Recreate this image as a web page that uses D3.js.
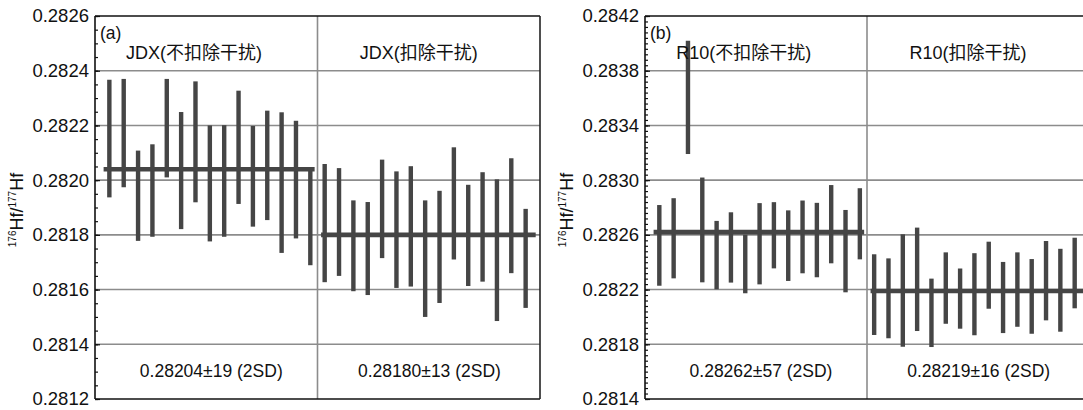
<!DOCTYPE html>
<html>
<head>
<meta charset="utf-8">
<script src="https://cdn.jsdelivr.net/npm/d3@7"></script>
<style>
  html, body { margin: 0; padding: 0; background: #fff; }
  svg { display: block; }
  text { font-family: "Liberation Sans", Arial, "Noto Sans CJK SC", sans-serif; fill: #111; }
</style>
</head>
<body>
<svg id="chart" width="1083" height="410"></svg>
<script>
// 176Hf/177Hf of each analysis (value and 2SD), 15 spots per session
const jdxRawVal  = [0.282152, 0.282172, 0.281943, 0.281962, 0.282190, 0.282035, 0.282140, 0.281988, 0.281997, 0.282120, 0.282014, 0.282054, 0.281991, 0.282002, 0.281867];
const jdxRawErr  = [0.000215, 0.000198, 0.000165, 0.000169, 0.000180, 0.000214, 0.000221, 0.000212, 0.000204, 0.000207, 0.000184, 0.000200, 0.000257, 0.000215, 0.000178];
const jdxCorrVal = [0.281843, 0.281847, 0.281760, 0.281750, 0.281895, 0.281819, 0.281831, 0.281713, 0.281756, 0.281915, 0.281798, 0.281829, 0.281744, 0.281870, 0.281714];
const jdxCorrErr = [0.000216, 0.000197, 0.000166, 0.000170, 0.000180, 0.000213, 0.000220, 0.000213, 0.000205, 0.000205, 0.000185, 0.000200, 0.000259, 0.000210, 0.000181];

const r10RawVal  = [0.282523, 0.282575, 0.283605, 0.282636, 0.282452, 0.282508, 0.282387, 0.282535, 0.282597, 0.282521, 0.282585, 0.282562, 0.282678, 0.282481, 0.282681];
const r10RawErr  = [0.000295, 0.000293, 0.000414, 0.000383, 0.000250, 0.000257, 0.000214, 0.000297, 0.000242, 0.000258, 0.000266, 0.000272, 0.000286, 0.000301, 0.000260];
const r10CorrVal = [0.282163, 0.282136, 0.282193, 0.282275, 0.282030, 0.282211, 0.282134, 0.282166, 0.282305, 0.282142, 0.282200, 0.282150, 0.282265, 0.282195, 0.282321];
const r10CorrErr = [0.000295, 0.000292, 0.000411, 0.000378, 0.000250, 0.000261, 0.000220, 0.000300, 0.000245, 0.000260, 0.000272, 0.000273, 0.000290, 0.000303, 0.000258];

// session means (weighted), 2SD in last digits
const jdxMeans = [0.28204, 0.28180];
const r10Means = [0.28262, 0.28219];
const jdxTitles = ["JDX(不扣除干扰)", "JDX(扣除干扰)"];
const r10Titles = ["R10(不扣除干扰)", "R10(扣除干扰)"];
const jdxStats = ["0.28204±19 (2SD)", "0.28180±13 (2SD)"];
const r10Stats = ["0.28262±57 (2SD)", "0.28219±16 (2SD)"];

const jdxMajorTicks = [0.2812, 0.2814, 0.2816, 0.2818, 0.2820, 0.2822, 0.2824, 0.2826];
const r10MajorTicks = [0.2814, 0.2818, 0.2822, 0.2826, 0.2830, 0.2834, 0.2838, 0.2842];

const svg = d3.select("#chart");
const BAR = "#454545";
const GRID = "#8c8c8c";

function panel(cfg) {
  const top = 16, bottom = 399;
  const x = d3.scaleLinear().domain([0, 31]).range([cfg.left, cfg.right]);
  const y = d3.scaleLinear().domain(cfg.domain).range([bottom, top]);
  const g = svg.append("g");

  // horizontal grid at inner major ticks
  g.append("g").selectAll("line")
    .data(cfg.major.slice(1, -1))
    .join("line")
    .attr("x1", cfg.left).attr("x2", cfg.right)
    .attr("y1", d => y(d)).attr("y2", d => y(d))
    .attr("stroke", GRID).attr("stroke-width", 1.6);

  // session divider
  g.append("line")
    .attr("x1", x(15.5)).attr("x2", x(15.5))
    .attr("y1", top).attr("y2", bottom)
    .attr("stroke", GRID).attr("stroke-width", 1.6);

  // minor ticks (inward)
  const minor = d3.range(cfg.domain[0], cfg.domain[1] + cfg.minorStep / 2, cfg.minorStep);
  g.append("g")
    .attr("transform", `translate(${cfg.left},0)`)
    .call(d3.axisLeft(y).tickValues(minor).tickSize(-3).tickFormat(""))
    .call(a => a.select(".domain").remove())
    .call(a => a.selectAll("line").attr("stroke", "#111").attr("stroke-width", 1.2));

  // major ticks + labels
  g.append("g")
    .attr("transform", `translate(${cfg.left},0)`)
    .call(d3.axisLeft(y).tickValues(cfg.major).tickSize(-5).tickPadding(6).tickFormat(d3.format(".4f")))
    .call(a => a.select(".domain").remove())
    .call(a => a.selectAll("line").attr("stroke", "#111").attr("stroke-width", 1.2))
    .call(a => a.selectAll("text").attr("font-size", 18.5).attr("fill", "#111")
      .style("font-family", '"Liberation Sans", Arial, sans-serif'));

  // frame: left axis, bottom axis, top and right borders
  g.append("line").attr("x1", cfg.left).attr("x2", cfg.left).attr("y1", top).attr("y2", bottom)
    .attr("stroke", "#111").attr("stroke-width", 1.6);
  g.append("line").attr("x1", cfg.left).attr("x2", cfg.right).attr("y1", bottom).attr("y2", bottom)
    .attr("stroke", "#111").attr("stroke-width", 1.6);
  g.append("line").attr("x1", cfg.left).attr("x2", cfg.right).attr("y1", top).attr("y2", top)
    .attr("stroke", "#111").attr("stroke-width", 1.6);
  g.append("line").attr("x1", cfg.right).attr("x2", cfg.right).attr("y1", top).attr("y2", bottom)
    .attr("stroke", "#222").attr("stroke-width", 1.6);

  // error bars of both sessions
  cfg.sessions.forEach((s, si) => {
    const start = si === 0 ? 1 : 16;
    const pts = s.val.map((v, i) => ({ i: start + i, v, e: s.err[i] }));
    g.append("g").selectAll("rect")
      .data(pts)
      .join("rect")
      .attr("x", d => x(d.i) - 2.2)
      .attr("width", 4.4)
      .attr("y", d => y(d.v + d.e))
      .attr("height", d => y(d.v - d.e) - y(d.v + d.e))
      .attr("fill", BAR);

    // session mean
    const x0 = si === 0 ? 0.6 : 15.75;
    const x1 = si === 0 ? 15.3 : 30.7;
    g.append("line")
      .attr("x1", x(x0)).attr("x2", x(x1))
      .attr("y1", y(s.mean)).attr("y2", y(s.mean))
      .attr("stroke", BAR).attr("stroke-width", 4.6);

    g.append("text")
      .attr("x", x(si === 0 ? 6.9 : 22.55)).attr("y", 53)
      .attr("text-anchor", "middle").attr("dominant-baseline", "central")
      .attr("font-size", 18).text(s.title);

    g.append("text")
      .attr("x", x(si === 0 ? 8.1 : 23.3)).attr("y", 371)
      .attr("text-anchor", "middle").attr("dominant-baseline", "central")
      .attr("font-size", 17.5).text(s.stat);
  });

  // panel letter
  g.append("text")
    .attr("x", cfg.left + 5).attr("y", 33)
    .attr("dominant-baseline", "central")
    .attr("font-size", 17.5).text(cfg.letter);

  // y-axis title 176Hf/177Hf
  const t = g.append("text")
    .attr("transform", `translate(${cfg.left - 72},210) rotate(-90)`)
    .attr("text-anchor", "middle")
    .attr("font-size", 18);
  t.append("tspan").attr("font-size", 10).attr("dy", -7).text("176");
  t.append("tspan").attr("dy", 7).text("Hf/");
  t.append("tspan").attr("font-size", 10).attr("dy", -7).text("177");
  t.append("tspan").attr("dy", 7).text("Hf");
}

panel({
  left: 95, right: 540,
  domain: [0.2812, 0.2826],
  major: jdxMajorTicks,
  minorStep: 0.00005,
  letter: "(a)",
  sessions: [
    { val: jdxRawVal, err: jdxRawErr, mean: jdxMeans[0], title: jdxTitles[0], stat: jdxStats[0] },
    { val: jdxCorrVal, err: jdxCorrErr, mean: jdxMeans[1], title: jdxTitles[1], stat: jdxStats[1] }
  ]
});

panel({
  left: 645, right: 1089,
  domain: [0.2814, 0.2842],
  major: r10MajorTicks,
  minorStep: 0.00004,
  letter: "(b)",
  sessions: [
    { val: r10RawVal, err: r10RawErr, mean: r10Means[0], title: r10Titles[0], stat: r10Stats[0] },
    { val: r10CorrVal, err: r10CorrErr, mean: r10Means[1], title: r10Titles[1], stat: r10Stats[1] }
  ]
});
</script>
</body>
</html>
